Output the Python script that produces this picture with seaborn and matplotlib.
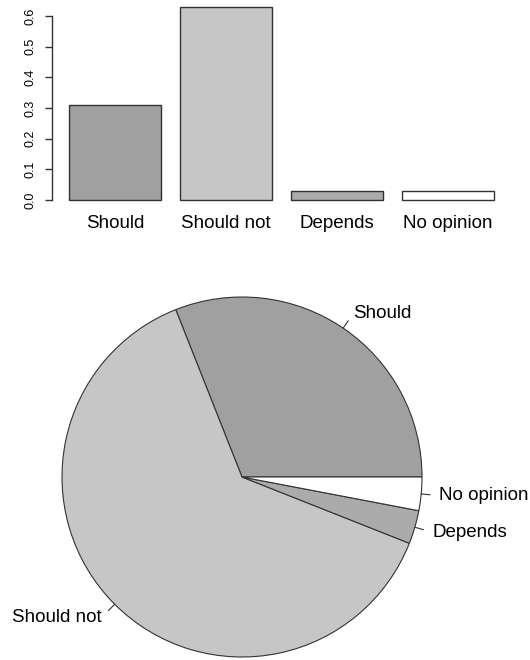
import numpy as np
import matplotlib
matplotlib.use("Agg")
import matplotlib.pyplot as plt
import seaborn as sns

# survey answers, as proportions
answers = ["Should", "Should not", "Depends", "No opinion"]
shares = [0.31, 0.63, 0.03, 0.03]
greys = ["#a0a0a0", "#c6c6c6", "#ababab", "#ffffff"]
yticks = [0.0, 0.1, 0.2, 0.3, 0.4, 0.5, 0.6]

sns.set_style("white")
plt.rcParams["font.family"] = ["Liberation Sans", "DejaVu Sans"]
plt.rcParams["text.color"] = "black"
plt.rcParams["xtick.color"] = "black"
plt.rcParams["ytick.color"] = "black"

W, H = 530, 660
fig = plt.figure(figsize=(W / 100, H / 100), dpi=100)

# --- bar chart on top ---
ax1 = fig.add_axes([52 / W, 1 - 208 / H, 459.5 / W, 208 / H])
sns.barplot(x=answers, y=shares, hue=answers, palette=greys, legend=False,
            width=0.833, saturation=1, edgecolor="#333333", linewidth=1,
            ax=ax1)
ax1.set_xlim(-0.57, 3.57)
ax1.set_ylim(-0.026, 0.652)
for s in ["top", "right", "bottom"]:
    ax1.spines[s].set_visible(False)
ax1.spines["left"].set_bounds(0, 0.6)
ax1.spines["left"].set_color("#333333")
ax1.spines["left"].set_linewidth(1)
ax1.set_yticks(yticks)
ax1.set_yticklabels([f"{t:.1f}" for t in yticks], rotation=90, va="center",
                    fontsize=9)
ax1.tick_params(axis="y", left=True, length=5, width=1, color="#333333",
                pad=6)
ax1.tick_params(axis="x", length=0, pad=5, labelsize=13.5)
ax1.set_xlabel("")
ax1.set_ylabel("")

# --- pie chart below ---
R = 180.0
cx, cy = 242.0, 477.0
top_px = 280.0
ax2 = fig.add_axes([0, 0, 1, (H - top_px) / H])
wedges, _ = ax2.pie(shares, colors=greys, startangle=0, counterclock=True,
                    wedgeprops=dict(edgecolor="#333333", linewidth=0.8))
ax2.set_aspect("auto")
ax2.set_xlim(-cx / R, (W - cx) / R)
ax2.set_ylim(-(H - cy) / R, (cy - top_px) / R)
ax2.axis("off")

start = 0.0
for lab, v in zip(answers, shares):
    mid = np.deg2rad(start + v * 360 / 2)
    c, s = np.cos(mid), np.sin(mid)
    ax2.plot([c, 1.05 * c], [s, 1.05 * s], color="#333333", lw=0.8,
             clip_on=False)
    ax2.text(1.1 * c, 1.1 * s, lab, ha="left" if c > 0 else "right",
             va="center", fontsize=13.5, color="black", clip_on=False)
    start += v * 360

fig.savefig("out.png", dpi=100)
